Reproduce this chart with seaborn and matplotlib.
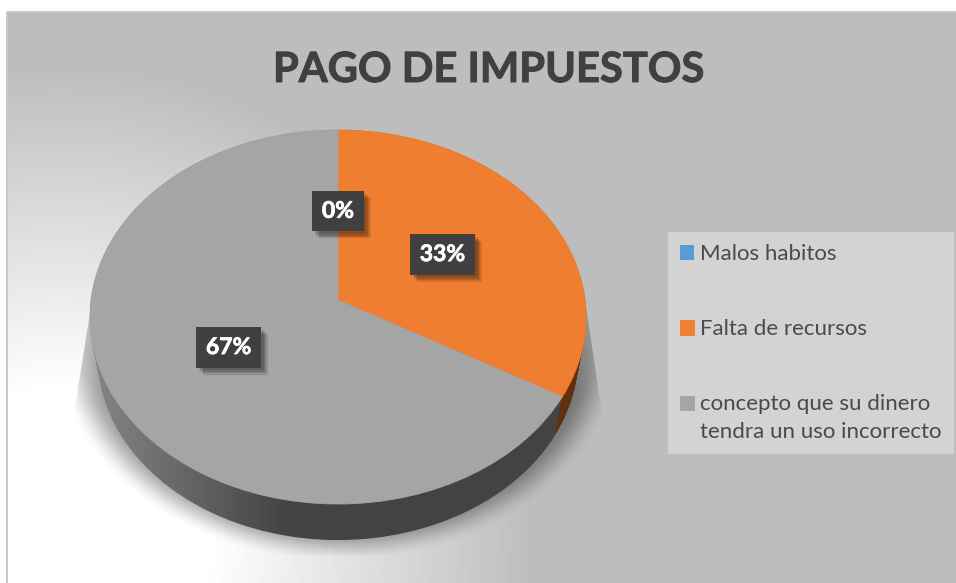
import numpy as np
import matplotlib
matplotlib.use("Agg")
import matplotlib.pyplot as plt
import matplotlib.patheffects as pe
import seaborn as sns

from matplotlib.path import Path
from matplotlib.patches import Polygon, Rectangle
from matplotlib.transforms import Transform

# data
categories = ["Malos habitos", "Falta de recursos", "concepto que su dinero\ntendra un uso incorrecto"]
shares = [0, 33.3, 66.7]
title = "PAGO DE IMPUESTOS"

top_colors = sns.color_palette(["#5b9bd5", "#ef7e30", "#a5a5a5"])
side_colors = sns.color_palette(["#2c5a85", "#63300f", "#434343"])

WIDTH, HEIGHT = 956, 583


class Tilt(Transform):
    """Perspective view of the unit pie, output in image pixels."""
    input_dims = 2
    output_dims = 2

    def __init__(self, a, b, k, cx, cy):
        super().__init__()
        self.a, self.b, self.k, self.cx, self.cy = a, b, k, cx, cy

    def transform_non_affine(self, values):
        u, v = np.asarray(values).T
        w = 1 + self.k * v
        return np.column_stack([self.cx + self.a * u / w, self.cy - self.b * v / w])


def draw_pie(ax, colors, tilt, zorder, **kwargs):
    wedges, *rest = ax.pie(shares, colors=colors, startangle=90, counterclock=False,
                           wedgeprops={"linewidth": 0}, **kwargs)
    for w in wedges:
        w.set_transform(tilt + ax.transData)
        w.set_zorder(zorder)
        w.set_clip_on(False)
    return (wedges, *rest)


sns.set_theme(style="white")
plt.rcParams["font.family"] = ["Lato", "DejaVu Sans"]

fig = plt.figure(figsize=(WIDTH / 100, HEIGHT / 100), dpi=100)
ax = fig.add_axes([0, 0, 1, 1])

# chart area background, white glow from the lower left
xx, yy = np.meshgrid(np.arange(7, WIDTH + 1), np.arange(12, HEIGHT + 1))
dist = np.hypot(xx - 60, yy - 540)
grey = (255 - 65 * np.clip((dist - 150) / 320, 0, 1)) / 255
ax.imshow(grey, cmap="gray", vmin=0, vmax=1, extent=(7, WIDTH + 1, HEIGHT + 1, 12), aspect="auto", zorder=0)
ax.add_patch(Rectangle((7, 12), 980, 600, fill=False, edgecolor="#c8c8c8", linewidth=1.5, zorder=0.5))

# soft shadow under the pie, cut by a trapezoid like the original
xx, yy = np.meshgrid(np.arange(73, 604), np.arange(300, 555))
d = np.hypot((xx - 338) / 285, (yy - 340) / 222)
t = np.clip((1 - d) / 0.16, 0, 1)
fade = 0.5 + 0.5 * np.clip((yy - 300) / 100, 0, 1)
shadow = np.zeros(d.shape + (4,))
shadow[..., 3] = 0.4 * t * t * (3 - 2 * t) * fade
shade = ax.imshow(shadow, extent=(73, 604, 555, 300), aspect="auto", zorder=0.8)
shade.set_clip_path(Polygon([(92, 300), (585, 300), (603, 420), (603, 555), (73, 555), (73, 420)],
                            transform=ax.transData))

# side wall: stack of pies from the bottom rim up to the top face
n_layers = 30
wall_outline = []
for i in range(n_layers):
    s = i / (n_layers - 1)
    tilt = Tilt(239 + 8 * s, 181.5 + 3.95 * s, 0.0909, 338, 340.4 - 40.4 * s)
    wedges, _ = draw_pie(ax, side_colors, tilt, 1 + s * 0.5)
    wall_outline.append(tilt.transform_path(wedges[2].get_path()))

# lighter left end of the wall
shine = np.ones((1, 200, 4))
shine[..., 3] = np.linspace(0.36, 0, 200)
im = ax.imshow(shine, extent=(90, 290, 545, 300), aspect="auto", zorder=2, interpolation="bilinear")
im.set_clip_path(Path.make_compound_path(*wall_outline), ax.transData)

# top face with the percentage boxes
top_tilt = Tilt(247, 185.45, 0.0909, 338, 300)
wedges, _, autotexts = draw_pie(ax, top_colors, top_tilt, 3, autopct="%.0f%%", pctdistance=0.5)
for wedge, share in zip(wedges, shares):
    if share > 0:
        wedge.set_edgecolor(wedge.get_facecolor())
        wedge.set_linewidth(0.6)
for txt in autotexts:
    txt.set(transform=top_tilt + ax.transData, color="white", fontsize=16.5, fontweight="bold",
            zorder=5, clip_on=False, ha="center", va="center",
            path_effects=[pe.withStroke(linewidth=0.5, foreground="white")])
    txt.set_bbox(dict(boxstyle="square,pad=0.42", facecolor="#404040", edgecolor="none"))
    txt.get_bbox_patch().set_path_effects([
        pe.SimplePatchShadow(offset=(o, -o), shadow_rgbFace="black", alpha=0.12) for o in (5, 4, 3, 2)
    ] + [pe.Normal()])

ax.text(488.5, 82, title, ha="center", va="baseline", fontsize=30, fontweight="bold", color="#404040", zorder=6,
        path_effects=[pe.withStroke(linewidth=0.7, foreground="#404040")])

leg = ax.legend(wedges, categories, loc="upper left", bbox_to_anchor=(668, 232),
                bbox_transform=ax.transData, borderaxespad=0, fontsize=16,
                frameon=True, fancybox=False, facecolor="#d3d3d3", edgecolor="none", framealpha=1,
                labelcolor="#4a4a4a", handlelength=0.63, handleheight=0.63, handletextpad=0.28,
                labelspacing=2.47, borderpad=0.55)
leg.set_zorder(6)
for txt in leg.get_texts():
    txt.set_linespacing(1.5)
# the swatch of the two line entry sits on its first line
last = leg.get_patches()[2]
last.set_y(last.get_y() + 10.8)

ax.set_xlim(0, WIDTH)
ax.set_ylim(HEIGHT, 0)
ax.set_aspect("auto")
ax.axis("off")

fig.savefig("out.png", dpi=100, facecolor="white")
